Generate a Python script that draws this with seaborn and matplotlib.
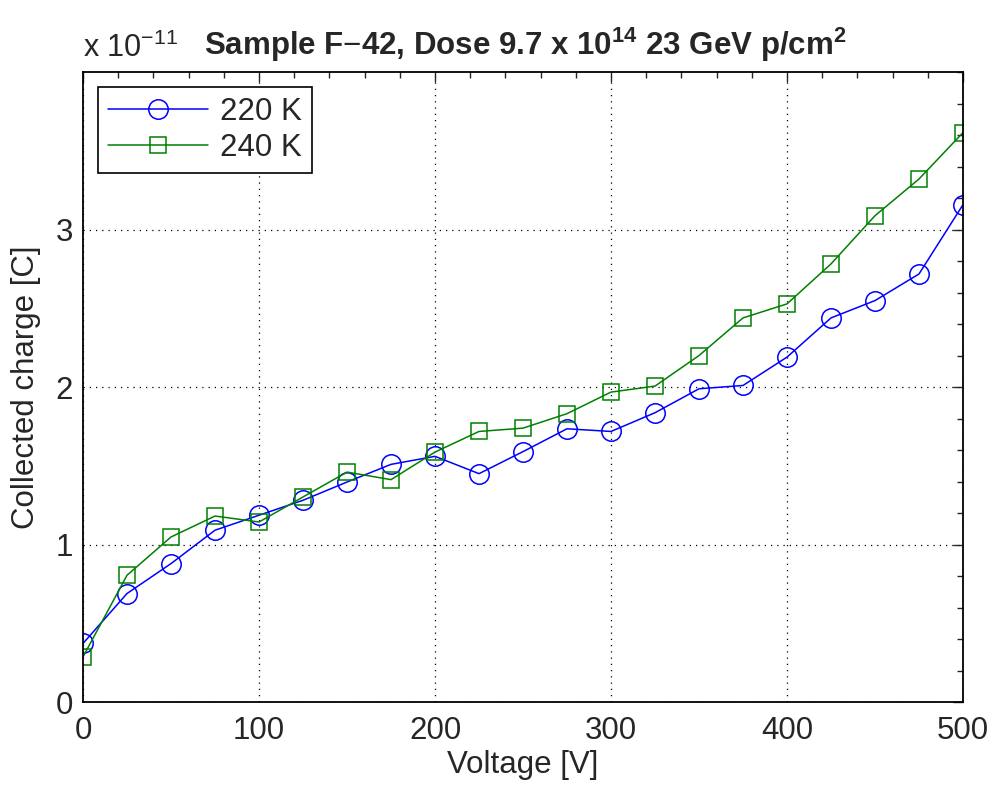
import matplotlib
matplotlib.use("Agg")
import matplotlib.pyplot as plt
import seaborn as sns
import pandas as pd
from matplotlib.ticker import MultipleLocator

voltage = [0, 25, 50, 75, 100, 125, 150, 175, 200, 225, 250, 275, 300, 325, 350, 375, 400, 425, 450, 475, 500]
charge_220K = [0.372, 0.689, 0.879, 1.091, 1.186, 1.281, 1.397, 1.509, 1.560, 1.450, 1.59, 1.735, 1.718, 1.837, 1.989, 2.010, 2.190, 2.439, 2.549, 2.718, 3.158]
charge_240K = [0.287, 0.805, 1.048, 1.181, 1.143, 1.302, 1.460, 1.412, 1.587, 1.718, 1.739, 1.831, 1.968, 2.006, 2.200, 2.439, 2.528, 2.782, 3.088, 3.321, 3.616]
series_labels = ["220 K", "240 K"]
x_ticks = [0, 100, 200, 300, 400, 500]
y_ticks = [0, 1, 2, 3]

sns.set_style("white")
plt.rcParams['font.family'] = ['Liberation Sans', 'DejaVu Sans']
plt.rcParams['mathtext.fontset'] = 'custom'
plt.rcParams['mathtext.rm'] = 'Liberation Sans'
plt.rcParams['mathtext.bf'] = 'Liberation Sans:bold'

FS = 22.5

fig = plt.figure(figsize=(9.93, 7.85), dpi=100)
ax = fig.add_axes([0.0836, 0.1057, 0.8862, 0.8025])

df = pd.DataFrame({"V": voltage * 2,
                   "Q": charge_220K + charge_240K,
                   "T": [series_labels[0]] * len(voltage) + [series_labels[1]] * len(voltage)})

styles = [("#0000ff", "o", 14), ("#008000", "s", 11)]
for lab, (c, m, ms) in zip(series_labels, styles):
    sub = df[df["T"] == lab]
    sns.lineplot(data=sub, x="V", y="Q", ax=ax, color=c, marker=m, markersize=ms,
                 markerfacecolor="none", markeredgecolor=c, markeredgewidth=1.1,
                 linewidth=1.1, label=lab, estimator=None, sort=False)

ax.set_xlim(0, 500)
ax.set_ylim(0, 4)
ax.set_xticks(x_ticks)
ax.set_yticks(y_ticks)
ax.xaxis.set_minor_locator(MultipleLocator(20))
ax.yaxis.set_minor_locator(MultipleLocator(0.2))
ax.tick_params(which="both", direction="in", top=True, right=True, labelsize=FS)
ax.tick_params(axis="x", pad=10)
ax.tick_params(axis="y", pad=7)
ax.tick_params(which="major", length=7, width=1)
ax.tick_params(which="minor", length=4, width=1)
ax.grid(True, which="major", linestyle=(0, (1, 4)), color="black", linewidth=0.9)
for s in ax.spines.values():
    s.set_color("black")
    s.set_linewidth(1.3)

ax.set_xlabel("Voltage [V]", fontsize=FS, labelpad=3)
ax.set_ylabel("Collected charge [C]", fontsize=FS, labelpad=11)
ax.set_title(r"Sample F$-$42, Dose 9.7 x 10$^{\mathbf{14}}$ 23 GeV p/cm$^{\mathbf{2}}$",
             fontsize=FS, fontweight="bold", x=0.503, pad=12)
ax.text(0.0, 1.024, r"x 10$^{-11}$", transform=ax.transAxes, fontsize=22,
        ha="left", va="baseline")

leg = ax.legend(loc="upper left", fontsize=FS, frameon=True, fancybox=False,
                edgecolor="black", framealpha=1, borderpad=0.32, labelspacing=0.2,
                handlelength=3.2, handletextpad=0.4, borderaxespad=0,
                bbox_to_anchor=(0.017, 0.976))
leg.get_frame().set_linewidth(1.2)

fig.savefig("out.png", dpi=100)
